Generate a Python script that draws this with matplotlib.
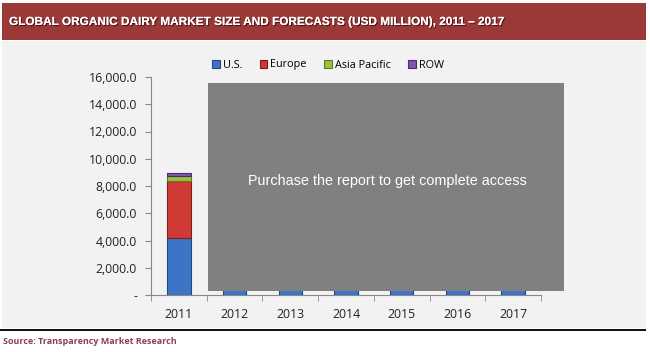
import matplotlib.pyplot as plt
import matplotlib.patches as patches
import matplotlib.patheffects as pe
from matplotlib.ticker import FuncFormatter
import numpy as np

years = ['2011', '2012', '2013', '2014', '2015', '2016', '2017']
us = [4200, 4550, 4950, 5400, 5900, 6450, 7050]
europe = [4200, 4500, 4850, 5250, 5700, 6200, 6750]
asia_pacific = [370, 420, 480, 550, 630, 720, 820]
row = [150, 170, 195, 225, 260, 300, 345]

series = [('U.S.', us, '#3d74c6', '#23487f'),
          ('Europe', europe, '#cf3a35', '#7e1d1a'),
          ('Asia Pacific', asia_pacific, '#9cc03c', '#5d7a1c'),
          ('ROW', row, '#7f55b0', '#4b2e70')]

fig = plt.figure(figsize=(6.5, 3.52), dpi=100)
fig.patch.set_facecolor('white')

# background panels
W, H = 650.0, 352.0
def fbox(x0, y0, x1, y1, **kw):
    return patches.Rectangle((x0 / W, 1 - y1 / H), (x1 - x0) / W, (y1 - y0) / H,
                             transform=fig.transFigure, **kw)

fig.patches.append(fbox(2, 41, 646, 328, facecolor='#f2f2f2', edgecolor='none', zorder=0))
fig.patches.append(fbox(2, 3, 646, 40, facecolor='#9b3838', edgecolor='none', zorder=1))
fig.patches.append(fbox(0, 329, 646, 331, facecolor='#111111', edgecolor='none', zorder=1))

fig.text(9 / W, 1 - 22 / H, 'GLOBAL ORGANIC DAIRY MARKET SIZE AND FORECASTS (USD MILLION), 2011 \u2013 2017',
         color='white', fontsize=8.5, fontweight='bold', family='Liberation Sans',
         va='center', ha='left',
         path_effects=[pe.withSimplePatchShadow(offset=(0.8, -0.8), shadow_rgbFace='#3a0a0a', alpha=0.8),
                       pe.Normal()])

fig.text(3 / W, 1 - 342 / H, 'Source: Transparency Market Research', color='#8a3f5f',
         fontsize=6.5, fontweight='bold', family='Open Sans', va='center', ha='left')

ax = fig.add_axes([151 / W, 1 - 295 / H, 390 / W, 218 / H])
ax.set_zorder(2)
ax.set_facecolor('none')
x = np.arange(len(years))
bottom = np.zeros(len(years))
for name, vals, col, edge in series:
    ax.bar(x, vals, width=0.42, bottom=bottom, color=col, edgecolor=edge, linewidth=0.8,
           label=name, zorder=2)
    bottom += np.array(vals)

ax.set_xlim(-0.5, len(years) - 0.5)
ax.set_ylim(0, 16000)
ax.set_yticks(np.arange(0, 16001, 2000))
ax.yaxis.set_major_formatter(FuncFormatter(lambda v, p: '-' if v == 0 else '{:,.1f}'.format(v)))
ax.set_xticks(x)
ax.set_xticklabels(years)
ax.set_xticks(np.arange(-0.5, len(years)), minor=True)
ax.tick_params(axis='x', which='major', length=0, pad=9, labelsize=8.8, colors='#222222')
ax.tick_params(axis='x', which='minor', length=4, color='#888888')
ax.tick_params(axis='y', length=4, color='#888888', labelsize=8.8, labelcolor='#222222', pad=6)
for lab in ax.get_xticklabels() + ax.get_yticklabels():
    lab.set_family('Open Sans')
for s in ['top', 'right']:
    ax.spines[s].set_visible(False)
for s in ['left', 'bottom']:
    ax.spines[s].set_color('#888888')
    ax.spines[s].set_linewidth(0.8)

leg = ax.legend(loc='center', bbox_to_anchor=(328 / W, 1 - 65 / H), bbox_transform=fig.transFigure,
                ncol=4, frameon=False, handlelength=0.7, handleheight=0.7,
                handletextpad=0.3, columnspacing=1.6, prop={'family': 'Open Sans', 'size': 7.8})

# overlay box
box = fbox(208, 83, 564, 291, facecolor='#808080', edgecolor='none', zorder=5)
fig.patches.append(box)
fig.text(387 / W, 1 - 181 / H, 'Purchase the report to get complete access', color='white',
         fontsize=10.4, family='Liberation Sans', ha='center', va='center', zorder=6)

fig.savefig('out.png', dpi=100)
